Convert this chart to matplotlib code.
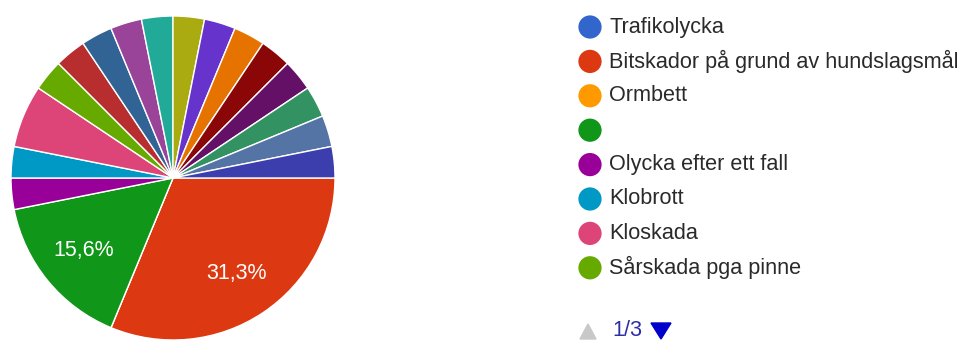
import matplotlib.pyplot as plt
from matplotlib.patches import Polygon

plt.rcParams['font.family'] = ['Liberation Sans', 'DejaVu Sans']

# answers (32 responses in total), in form order
counts = [0, 10, 0, 5, 1, 1, 2, 1, 1, 1, 1, 1, 1, 1, 1, 1, 1, 1, 1, 1]
colors = ['#3366cc', '#dc3912', '#ff9900', '#109618', '#990099', '#0099c6',
          '#dd4477', '#66aa00', '#b82e2e', '#316395', '#994499', '#22aa99',
          '#aaaa11', '#6633cc', '#e67300', '#8b0707', '#651067', '#329262',
          '#5574a6', '#3b3eac']
# first page of the legend
legend_labels = ['Trafikolycka', 'Bitskador på grund av hundslagsmål', 'Ormbett', '',
                 'Olycka efter ett fall', 'Klobrott', 'Kloskada', 'Sårskada pga pinne']
page_text = '1/3'

W, H = 966, 340
fig = plt.figure(figsize=(W / 100, H / 100), dpi=100)

# pie
cx, cy, r = 173, 178, 162
ax = fig.add_axes([(cx - r) / W, (H - cy - r) / H, 2 * r / W, 2 * r / H])


def pct_label(p):
    # round half up, like the forms summary does (31.25 -> 31,3)
    v = int(p * 10 + 0.5 + 1e-9) / 10
    return f'{v:.1f}%'.replace('.', ',') if p >= 10 else ''


wedges, texts, autotexts = ax.pie(
    counts, colors=colors, startangle=0, counterclock=False,
    autopct=pct_label, pctdistance=0.71,
    wedgeprops=dict(edgecolor='white', linewidth=1.0),
    textprops=dict(color='white', fontsize=15.5))
ax.set_xlim(-1, 1)
ax.set_ylim(-1, 1)
ax.set_aspect('equal')
ax.axis('off')

# legend, laid out in pixel coordinates
lax = fig.add_axes([0, 0, 1, 1])
lax.set_xlim(0, W)
lax.set_ylim(H, 0)
lax.axis('off')
row_y0, row_dy = 27, 34.4
for i, lab in enumerate(legend_labels):
    y = row_y0 + i * row_dy
    lax.scatter(590, y, s=280, color=colors[i], edgecolors='none')
    lax.text(609, y, lab, fontsize=15.6, color='#2a2a2a', va='center', ha='left')

# page navigation
py = 331
lax.add_patch(Polygon([[580, py + 8], [596, py + 8], [588, py - 7]],
                      closed=True, color='#c8c8c8'))
lax.text(612, py, page_text, fontsize=15.6, color='#2d2da8', va='center', ha='left')
lax.add_patch(Polygon([[651, py - 8], [671, py - 8], [661, py + 8]],
                      closed=True, color='#0000cc'))

fig.savefig('out.png', dpi=100, facecolor='white')
